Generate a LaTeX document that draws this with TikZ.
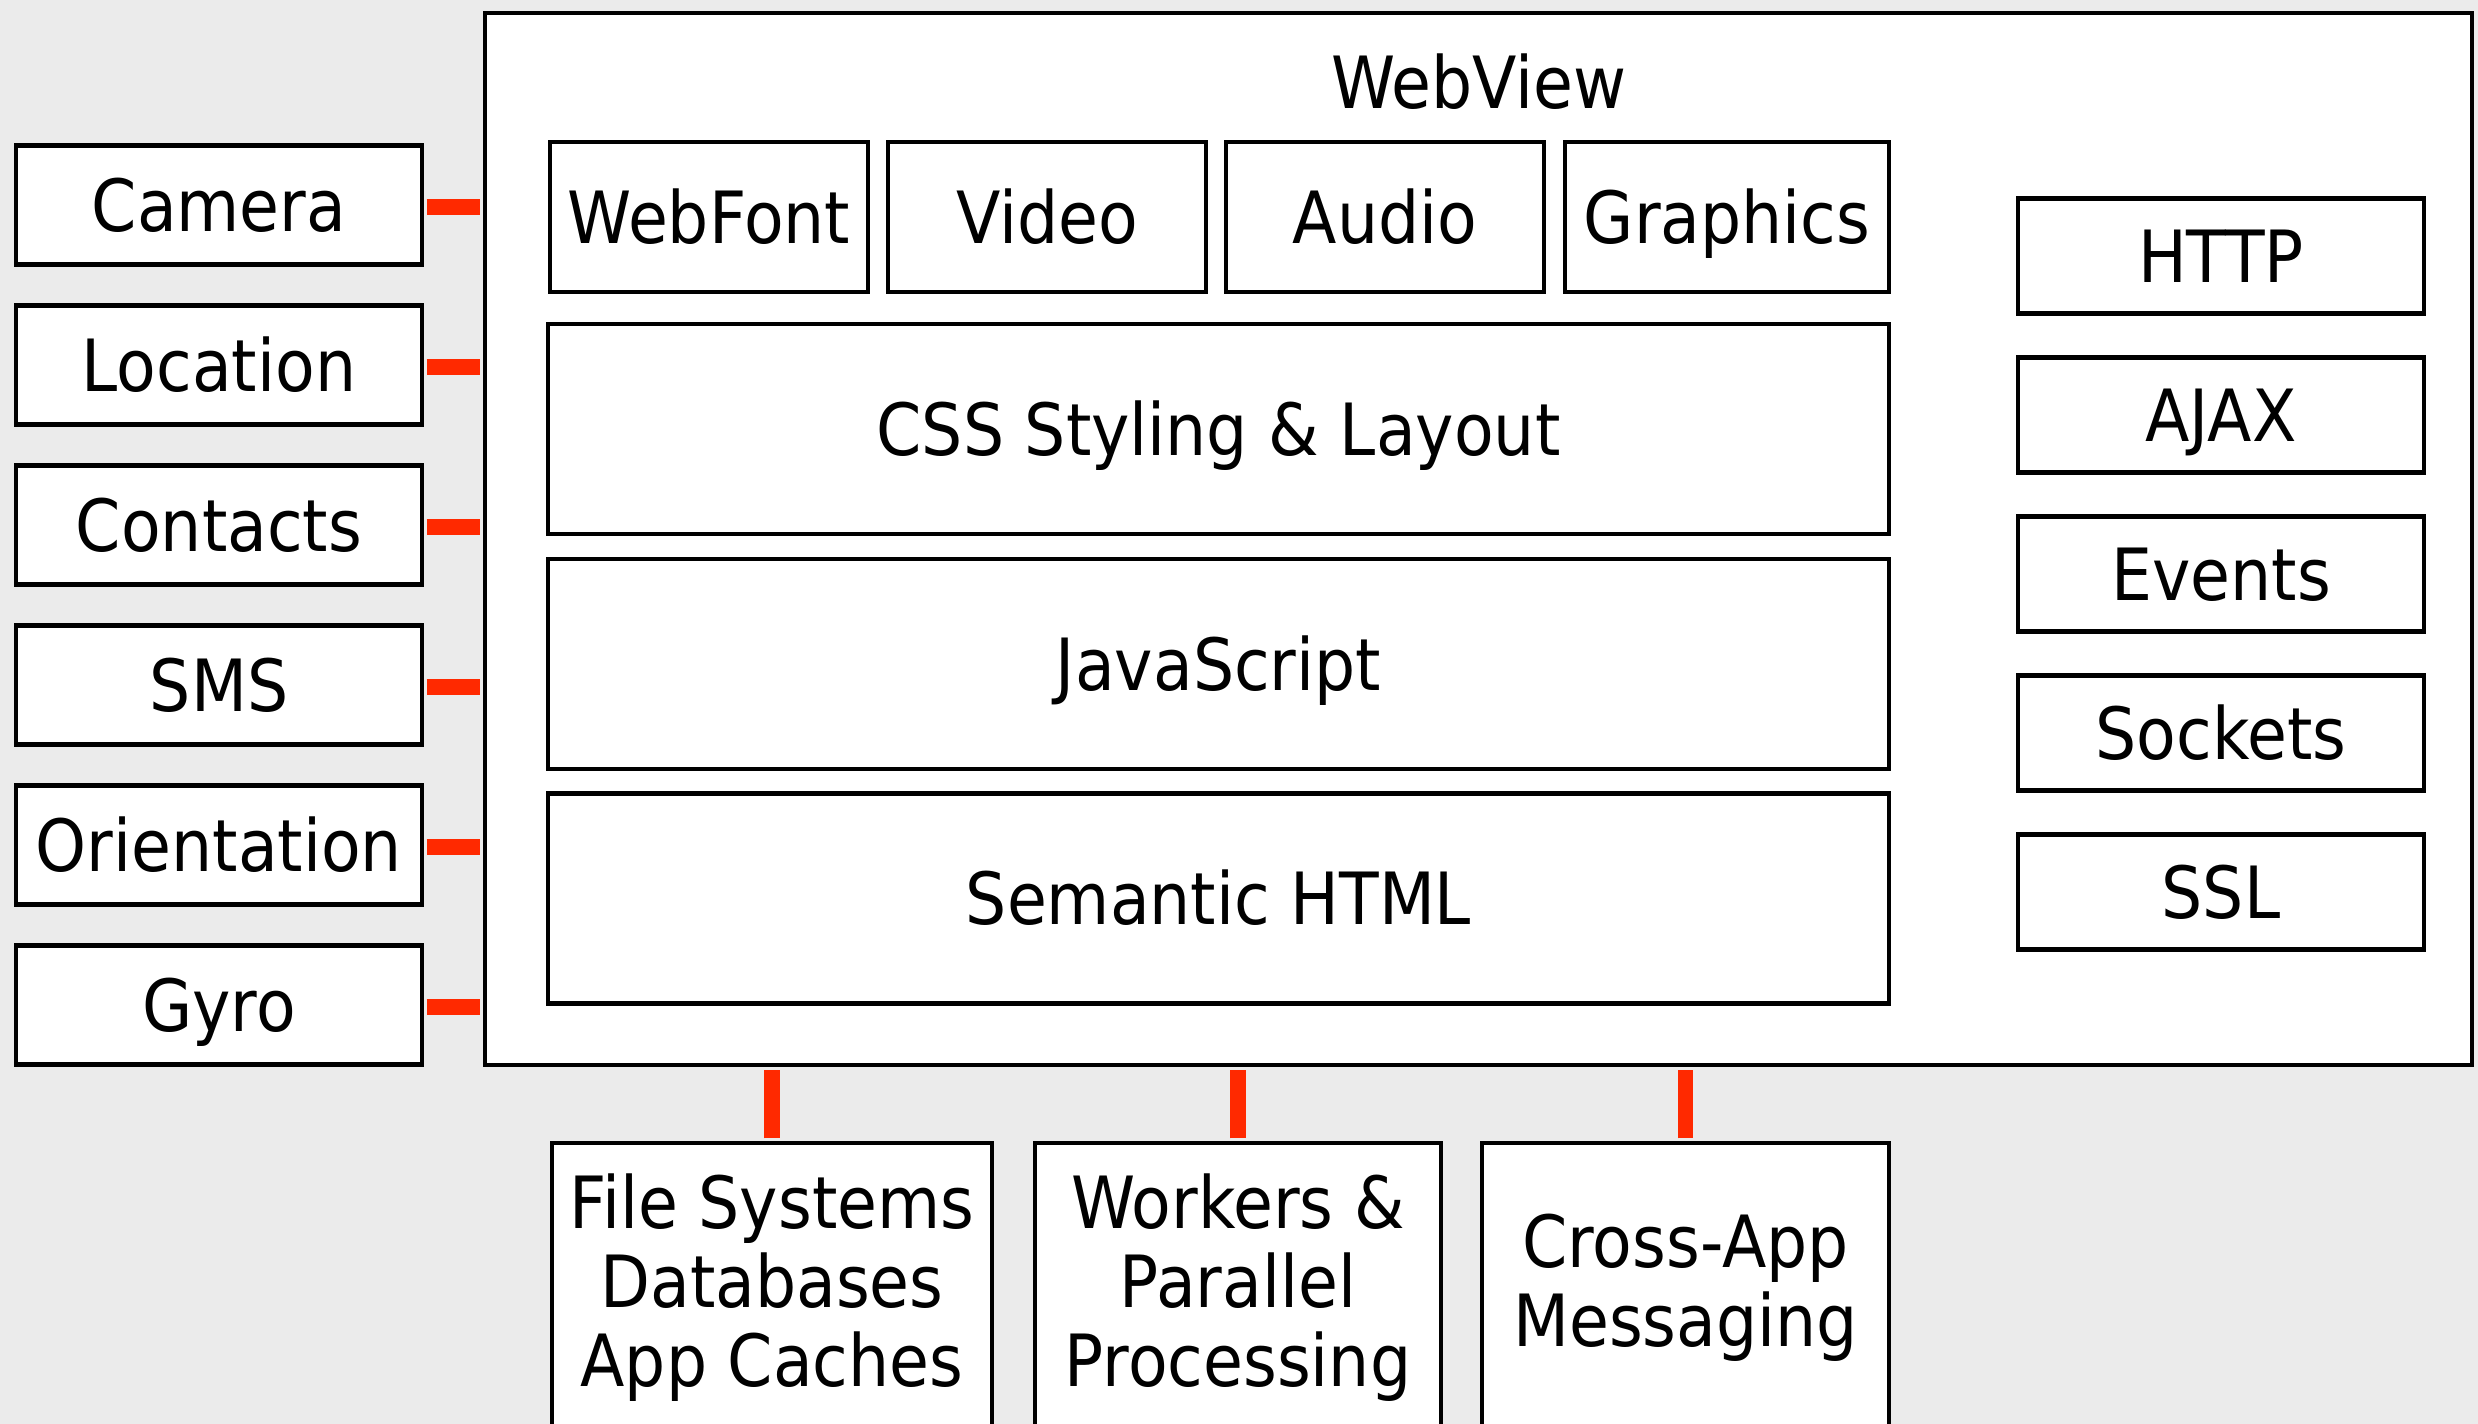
\documentclass[tikz,border=0pt]{standalone}
\usepackage{fontspec}
\setmainfont{DejaVu Sans}[FakeStretch=0.9]
\usetikzlibrary{positioning}
\definecolor{bg}{HTML}{EBEBEB}
\definecolor{wire}{RGB}{255,41,0}
\begin{document}
\begin{tikzpicture}[font=\fontsize{20.5}{22.5}\selectfont,
  frame/.style={draw, line width=1.3pt, fill=white, inner sep=0pt},
  box/.style={frame, text height=15pt, text depth=0pt},
  stack/.style={frame, align=center, minimum height=2.9cm},
  link/.style={draw=wire, line width=4.3pt, shorten <=0.65pt, shorten >=0.65pt}]
\fill[bg] (0,0) rectangle (24.78,14.24);
\useasboundingbox (0,0) rectangle (24.78,14.24);
% main container
\node[frame, minimum width=19.87cm, minimum height=10.52cm] (web) at (14.785,8.85) {};
\node (title) at (14.79,13.42) {WebView};
% top row
\node[box, minimum width=3.18cm, minimum height=1.5cm] (font) at (7.09,12.07) {WebFont};
\node[box, minimum width=3.18cm, minimum height=1.5cm] (video) at (10.47,12.07) {Video};
\node[box, minimum width=3.18cm, minimum height=1.5cm] (audio) at (13.85,12.07) {Audio};
\node[box, minimum width=3.24cm, minimum height=1.5cm] (gfx) at (17.27,12.07) {Graphics};
% layers
\node[box, minimum width=13.41cm, minimum height=2.1cm] (css) at (12.185,9.95) {CSS Styling \& Layout};
\node[box, minimum width=13.41cm, minimum height=2.1cm] (js) at (12.185,7.6) {JavaScript};
\node[box, minimum width=13.41cm, minimum height=2.1cm] (html) at (12.185,5.255) {Semantic HTML};
% network column
\foreach \nm/\txt [count=\i from 0] in {http/HTTP, ajax/AJAX, events/Events, sock/Sockets, ssl/SSL}
  \node[box, minimum width=4.06cm, minimum height=1.15cm] (\nm) at (22.21,{11.68-1.59*\i}) {\txt};
% device APIs
\foreach \nm/\txt [count=\i from 0] in {cam/Camera, loc/Location, cont/Contacts, sms/SMS, orient/Orientation, gyro/Gyro} {
  \node[box, minimum width=4.06cm, minimum height=1.19cm] (\nm) at (2.19,{12.19-1.6*\i}) {\txt};
  \draw[link] ([yshift=-0.02cm]\nm.east) -- ([yshift=-0.02cm]\nm.east -| web.west);
}
% storage and processing
\node[stack, minimum width=4.4cm] (fs) at (7.72,1.36) {File Systems\\Databases\\App Caches};
\node[stack, minimum width=4.06cm] (work) at (12.38,1.36) {Workers \&\\Parallel\\Processing};
\node[stack, minimum width=4.07cm] (msg) at (16.855,1.36) {Cross-App\\Messaging};
\draw[link] (fs.north) -- (fs.north |- web.south);
\draw[link] (work.north) -- (work.north |- web.south);
\draw[link] (msg.north) -- (msg.north |- web.south);
\end{tikzpicture}
\end{document}
